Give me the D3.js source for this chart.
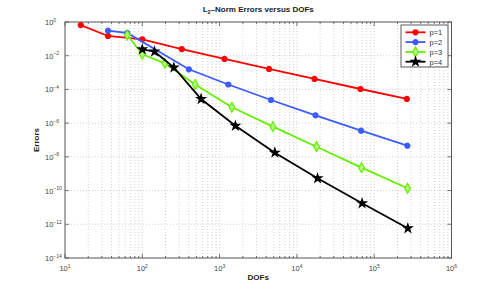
<!DOCTYPE html>
<html>
<head>
<meta charset="utf-8">
<script src="https://cdn.jsdelivr.net/npm/d3@7"></script>
<style>
  body { margin: 0; background: #fff; }
  svg { display: block; font-family: "Liberation Sans", Arial, sans-serif; }
</style>
</head>
<body>
<svg id="chart" width="498" height="291"></svg>
<script>
// DOFs per refinement level, one list per polynomial degree
var dofsP1 = [16, 36, 100, 324, 1156, 4356, 16900, 66564, 264196];
var dofsP2 = [36, 64, 400, 1296, 4624, 17424, 67600, 268324];
var dofsP3 = [64, 100, 196, 484, 1444, 4900, 17956, 68644, 270400];
var dofsP4 = [100, 144, 256, 576, 1600, 5184, 18496, 69696, 272484];

// L2 errors
var errP1 = [0.66, 0.148, 0.094, 0.025, 6.4e-3, 1.63e-3, 4.16e-4, 1.06e-4, 2.71e-5];
var errP2 = [0.305, 0.223, 1.57e-3, 1.96e-4, 2.36e-5, 2.92e-6, 3.57e-7, 4.6e-8];
var errP3 = [0.169, 0.0121, 3.55e-3, 1.96e-4, 8.7e-6, 6.2e-7, 4.0e-8, 2.28e-9, 1.37e-10];
var errP4 = [0.024, 0.0178, 2.0e-3, 2.71e-5, 6.97e-7, 1.77e-8, 5.37e-10, 1.77e-11, 5.8e-13];

var seriesNames = ["p=1", "p=2", "p=3", "p=4"];
var xTickExp = [1, 2, 3, 4, 5, 6];
var yTickExp = [0, -2, -4, -6, -8, -10, -12, -14];

var series = [
    { name: seriesNames[0], x: dofsP1, y: errP1, color: "#ff0000", face: "#ff0000", symbol: d3.symbolCircle, size: 20 },
    { name: seriesNames[1], x: dofsP2, y: errP2, color: "#3d5cff", face: "#3d5cff", symbol: d3.symbolCircle, size: 20 },
    { name: seriesNames[2], x: dofsP3, y: errP3, color: "#66ee00", face: "#b2f880", symbol: d3.symbolDiamond, size: 28 },
    { name: seriesNames[3], x: dofsP4, y: errP4, color: "#000000", face: "#000000", symbol: d3.symbolStar, size: 22 }
];

var svg = d3.select("#chart");
// plot box (window.top is reserved, so use other names)
var boxL = 65, boxR = 451.5, boxT = 22, boxB = 258;
var axisColor = "#555";

var x = d3.scaleLog().domain([10, 1e6]).range([boxL, boxR]);
var y = d3.scaleLog().domain([1e-14, 1]).range([boxB, boxT]);

// grid: x gets major + minor, y only the labelled decades
var xMinor = [];
xTickExp.slice(0, -1).forEach(e => {
    for (var k = 2; k <= 9; k++) xMinor.push(k * Math.pow(10, e));
});
var xMajor = xTickExp.map(e => Math.pow(10, e));
var yMajor = yTickExp.map(e => Math.pow(10, e));

var grid = svg.append("g")
    .attr("stroke", "#b4b4b4")
    .attr("stroke-width", 0.6)
    .attr("stroke-dasharray", "1,2");
grid.selectAll(".gx")
    .data(xMinor.concat(xMajor.slice(1, -1)))
    .join("line")
    .attr("class", "gx")
    .attr("x1", d => x(d)).attr("x2", d => x(d))
    .attr("y1", boxT).attr("y2", boxB);
grid.selectAll(".gy")
    .data(yMajor.slice(1, -1))
    .join("line")
    .attr("class", "gy")
    .attr("x1", boxL).attr("x2", boxR)
    .attr("y1", d => y(d)).attr("y2", d => y(d));

// inner ticks on all four sides
var ticks = svg.append("g").attr("stroke", axisColor).attr("stroke-width", 0.8);
xMajor.concat(xMinor).forEach(v => {
    var len = xMajor.indexOf(v) >= 0 ? 4 : 2;
    ticks.append("line").attr("x1", x(v)).attr("x2", x(v)).attr("y1", boxB).attr("y2", boxB - len);
    ticks.append("line").attr("x1", x(v)).attr("x2", x(v)).attr("y1", boxT).attr("y2", boxT + len);
});
yMajor.forEach(v => {
    ticks.append("line").attr("x1", boxL).attr("x2", boxL + 4).attr("y1", y(v)).attr("y2", y(v));
    ticks.append("line").attr("x1", boxR).attr("x2", boxR - 4).attr("y1", y(v)).attr("y2", y(v));
});

svg.append("rect")
    .attr("x", boxL).attr("y", boxT)
    .attr("width", boxR - boxL).attr("height", boxB - boxT)
    .attr("fill", "none")
    .attr("stroke", axisColor)
    .attr("stroke-width", 1);

// tick labels as 10 with a superscript
var xLab = svg.append("g").attr("fill", "#444").attr("font-size", 7.5);
xTickExp.forEach(e => {
    var t = xLab.append("text")
        .attr("x", x(Math.pow(10, e)))
        .attr("y", 271)
        .attr("text-anchor", "middle");
    t.append("tspan").text("10");
    t.append("tspan").attr("font-size", 5).attr("dy", -3.5).text(e);
});
var yLab = svg.append("g").attr("fill", "#444").attr("font-size", 7.5);
yTickExp.forEach(e => {
    var t = yLab.append("text")
        .attr("x", 45)
        .attr("y", y(Math.pow(10, e)) + 3);
    t.append("tspan").text("10");
    t.append("tspan").attr("font-size", 5).attr("dy", -3.5).text(e === 0 ? "0" : "\u2212" + (-e));
});

// titles
var title = svg.append("text")
    .attr("x", (boxL + boxR) / 2)
    .attr("y", 12)
    .attr("text-anchor", "middle")
    .attr("font-size", 8)
    .attr("font-weight", "bold")
    .attr("fill", "#222");
title.append("tspan").text("L");
title.append("tspan").attr("font-size", 5.5).attr("dy", 2).text("2");
title.append("tspan").attr("dy", -2).text("\u2013Norm Errors versus DOFs");

svg.append("text")
    .attr("x", (boxL + boxR) / 2)
    .attr("y", 280)
    .attr("text-anchor", "middle")
    .attr("font-size", 8)
    .attr("font-weight", "bold")
    .attr("fill", "#222")
    .text("DOFs");

svg.append("text")
    .attr("transform", `translate(39,${(boxT + boxB) / 2}) rotate(-90)`)
    .attr("text-anchor", "middle")
    .attr("font-size", 8)
    .attr("font-weight", "bold")
    .attr("fill", "#222")
    .text("Errors");

// lines and markers
var line = d3.line().x(d => x(d[0])).y(d => y(d[1]));
var plot = svg.append("g");
series.forEach(s => {
    var pts = s.x.map((v, i) => [v, s.y[i]]);
    plot.append("path")
        .attr("d", line(pts))
        .attr("fill", "none")
        .attr("stroke", s.color)
        .attr("stroke-width", 1.8);
    plot.selectAll(null)
        .data(pts)
        .join("path")
        .attr("transform", d => `translate(${x(d[0])},${y(d[1])})`)
        .attr("d", d3.symbol().type(s.symbol).size(s.size))
        .attr("fill", s.face)
        .attr("stroke", s.color)
        .attr("stroke-width", 1.2);
});

// legend
var lg = svg.append("g").attr("transform", "translate(401,25)");
lg.append("rect")
    .attr("width", 47).attr("height", 42)
    .attr("fill", "#fff")
    .attr("stroke", "#333")
    .attr("stroke-width", 0.8);
series.forEach((s, i) => {
    var row = lg.append("g").attr("transform", `translate(0,${7.3 + i * 9.8})`);
    row.append("line")
        .attr("x1", 4.5).attr("x2", 24.5)
        .attr("stroke", s.color).attr("stroke-width", 1.8);
    row.append("path")
        .attr("transform", "translate(14.5,0)")
        .attr("d", d3.symbol().type(s.symbol).size(s.size))
        .attr("fill", s.face)
        .attr("stroke", s.color)
        .attr("stroke-width", 1.2);
    row.append("text")
        .attr("x", 28.5).attr("y", 3)
        .attr("font-size", 7.5)
        .attr("fill", "#333")
        .text(s.name);
});
</script>
</body>
</html>
